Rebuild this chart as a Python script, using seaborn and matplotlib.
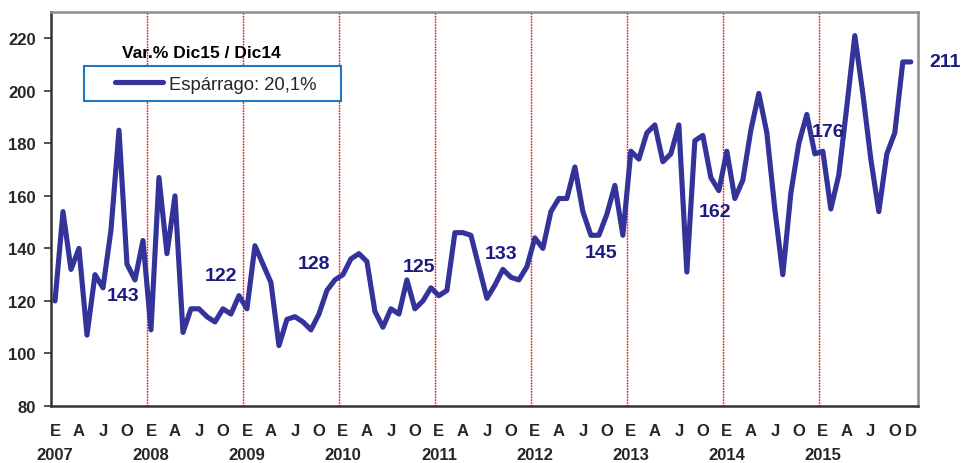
import numpy as np
import pandas as pd
import matplotlib
matplotlib.use("Agg")
import matplotlib.pyplot as plt
from matplotlib.patches import Rectangle
import seaborn as sns

# ---------------- data ----------------
years = [2007, 2008, 2009, 2010, 2011, 2012, 2013, 2014, 2015]
v2007 = [120, 154, 132, 140, 107, 130, 125, 147, 185, 134, 128, 143]
v2008 = [109, 167, 138, 160, 108, 117, 117, 114, 112, 117, 115, 122]
v2009 = [117, 141, 134, 127, 103, 113, 114, 112, 109, 115, 124, 128]
v2010 = [130, 136, 138, 135, 116, 110, 117, 115, 128, 117, 120, 125]
v2011 = [122, 124, 146, 146, 145, 133, 121, 126, 132, 129, 128, 133]
v2012 = [144, 140, 154, 159, 159, 171, 154, 145, 145, 153, 164, 145]
v2013 = [177, 174, 184, 187, 173, 176, 187, 131, 181, 183, 167, 162]
v2014 = [177, 159, 166, 185, 199, 184, 155, 130, 161, 180, 191, 176]
v2015 = [177, 155, 168, 194, 221, 199, 174, 154, 176, 184, 211, 211]
month_letters = ["E", "A", "J", "O"]
dec_labels = ["143", "122", "128", "125", "133", "145", "162", "176", "211"]
series_name = "Espárrago: 20,1%"
legend_title = "Var.% Dic15 / Dic14"

values = v2007 + v2008 + v2009 + v2010 + v2011 + v2012 + v2013 + v2014 + v2015
df = pd.DataFrame({"mes": np.arange(len(values)), "indice": values})

# label offsets (pixels) relative to each December point
label_offsets = [(-20, -55), (-18, 20), (-21, 16), (-12, 21), (-26, 13),
                 (-22, -17), (-4, -21), (13, 22), (34, 0)]

# ---------------- style ----------------
sns.set_style("white")
plt.rcParams["font.family"] = ["Liberation Sans", "DejaVu Sans"]

line_color = "#333399"
label_color = "#1a1a80"

fig = plt.figure(figsize=(9.64, 4.64), dpi=100)
ax = fig.add_axes([51 / 964, (464 - 407) / 464, 867 / 964, 394 / 464])

sns.lineplot(data=df, x="mes", y="indice", ax=ax, color=line_color,
             linewidth=3.7, label=series_name, legend=False)

# red dotted year separators
for k in range(1, len(years)):
    ax.axvline(12 * k - 0.5, color="#ff0000", linestyle=(0, (1.2, 0.8)),
               linewidth=1.0, zorder=0.5, snap=True)

ax.set_xlim(-0.5, 107.9)
ax.set_ylim(80, 230)
ax.set_yticks(np.arange(80, 221, 20))
ax.set_yticklabels([str(v) for v in range(80, 221, 20)], fontsize=12, fontweight="bold")

# x ticks: E A J O per year, plus final D
ticks, labels = [], []
for yi, yr in enumerate(years):
    for mi, letter in enumerate(month_letters):
        ticks.append(12 * yi + 3 * mi)
        labels.append(f"{letter}\n{yr}" if mi == 0 else letter)
ticks.append(len(values) - 1)
labels.append("D")
ax.set_xticks(ticks)
ax.set_xticklabels(labels, fontsize=12, fontweight="bold", va="top")
for lbl in ax.get_xticklabels():
    lbl.set_linespacing(1.75)
ax.tick_params(axis="x", length=0, pad=12)
ax.tick_params(axis="y", length=5, width=1.2, color="#333333", pad=6, direction="out", left=True)
ax.set_xlabel("")
ax.set_ylabel("")

for side in ["left", "bottom"]:
    ax.spines[side].set_color("#333333")
    ax.spines[side].set_linewidth(1.8)
for side in ["top", "right"]:
    ax.spines[side].set_color("#8c8c8c")
    ax.spines[side].set_linewidth(1.8)

# December value labels
for k, (txt, (dx, dy)) in enumerate(zip(dec_labels, label_offsets)):
    i = 12 * k + 11
    ax.annotate(txt, xy=(i, values[i]), xytext=(dx, dy), textcoords="offset pixels",
                ha="center", va="center", fontsize=14, fontweight="bold",
                color=label_color, zorder=5, annotation_clip=False)

# legend box
box_x0, box_x1 = (84 - 51) / 867, (341 - 51) / 867
box_y0, box_y1 = (407 - 102) / 394, (407 - 67) / 394
ax.add_patch(Rectangle((box_x0, box_y0), box_x1 - box_x0, box_y1 - box_y0,
                       transform=ax.transAxes, facecolor="white", edgecolor="#1f77c4",
                       linewidth=1.5, zorder=6))
leg = ax.legend(handles=ax.get_lines()[:1], labels=[series_name],
                loc="center left", bbox_to_anchor=((115 - 51) / 867, (407 - 85) / 394),
                frameon=False, borderpad=0, borderaxespad=0, handlelength=2.6,
                handletextpad=0.3, prop={"size": 13.3})
leg.set_zorder(7)
ax.text((201 - 51) / 867, (407 - 53) / 394, legend_title, transform=ax.transAxes,
        ha="center", va="center", fontsize=12.5, fontweight="bold", color="black", zorder=7)

fig.savefig("out.png", dpi=100)
